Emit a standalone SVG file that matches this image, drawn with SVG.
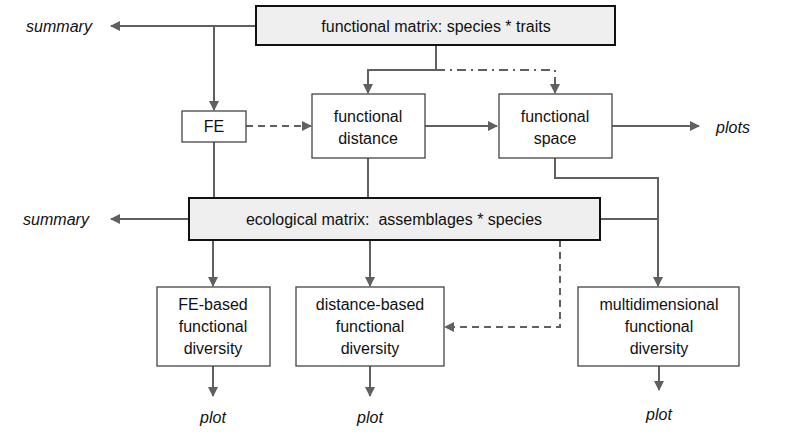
<svg xmlns="http://www.w3.org/2000/svg" width="800" height="442" viewBox="0 0 800 442">
<style>
text{font-family:"Liberation Sans",Arial,sans-serif;font-size:16px;fill:#111;text-anchor:middle}
.it{font-style:italic}
.box{fill:#fff;stroke:#444;stroke-width:1.3}
.mat{fill:#efefef;stroke:#111;stroke-width:2}
.c{fill:none;stroke:#606060;stroke-width:2}
.d{stroke-dasharray:7,5}
.dd{stroke-dasharray:9,5,2,5}
</style>
<defs><marker id="a" viewBox="0 0 10 10" refX="9" refY="5" markerWidth="5" markerHeight="5" orient="auto" markerUnits="strokeWidth"><path d="M0,0L10,5L0,10z" fill="#606060"/></marker></defs>
<g id="connectors">
<path class="c" d="M256,26H111" marker-end="url(#a)"/>
<path class="c" d="M214,26V110" marker-end="url(#a)"/>
<path class="c" d="M436,45V70H368V93" marker-end="url(#a)"/>
<path class="c dd" d="M436,70H555V93" marker-end="url(#a)"/>
<path class="c d" d="M246,126H311" marker-end="url(#a)"/>
<path class="c" d="M425,126H497" marker-end="url(#a)"/>
<path class="c" d="M612,126H699" marker-end="url(#a)"/>
<path class="c" d="M214,142V198"/>
<path class="c" d="M368,158V198"/>
<path class="c" d="M555,158V178H658V286" marker-end="url(#a)"/>
<path class="c" d="M600,219H658"/>
<path class="c" d="M189,219H111" marker-end="url(#a)"/>
<path class="c" d="M213,240V286" marker-end="url(#a)"/>
<path class="c" d="M370,240V286" marker-end="url(#a)"/>
<path class="c d" d="M560,240V327H445" marker-end="url(#a)"/>
<path class="c" d="M213,366V396" marker-end="url(#a)"/>
<path class="c" d="M370,366V396" marker-end="url(#a)"/>
<path class="c" d="M659,366V390" marker-end="url(#a)"/>
</g>
<g id="fm"><rect class="mat" x="256" y="6" width="359" height="39"/><text x="436" y="32">functional matrix: species * traits</text></g>
<g id="fe"><rect class="box" x="182" y="111" width="64" height="31"/><text x="214" y="132">FE</text></g>
<g id="fd"><rect class="box" x="312" y="94" width="113" height="64"/><text x="368" y="122">functional</text><text x="368" y="144">distance</text></g>
<g id="fs"><rect class="box" x="499" y="94" width="113" height="64"/><text x="555" y="122">functional</text><text x="555" y="144">space</text></g>
<g id="em"><rect class="mat" x="189" y="198" width="411" height="42"/><text x="394" y="225" xml:space="preserve">ecological matrix:  assemblages * species</text></g>
<g id="feb"><rect class="box" x="157" y="287" width="113" height="79"/><text x="213" y="310">FE-based</text><text x="213" y="332">functional</text><text x="213" y="354">diversity</text></g>
<g id="db"><rect class="box" x="296" y="287" width="148" height="79"/><text x="370" y="310">distance-based</text><text x="370" y="332">functional</text><text x="370" y="354">diversity</text></g>
<g id="md"><rect class="box" x="578" y="287" width="161" height="79"/><text x="659" y="310">multidimensional</text><text x="659" y="332">functional</text><text x="659" y="354">diversity</text></g>
<g id="labels">
<text class="it" x="59" y="32">summary</text>
<text class="it" x="56" y="225">summary</text>
<text class="it" x="733" y="133">plots</text>
<text class="it" x="213" y="423">plot</text>
<text class="it" x="370" y="423">plot</text>
<text class="it" x="659" y="420">plot</text>
</g>
</svg>
